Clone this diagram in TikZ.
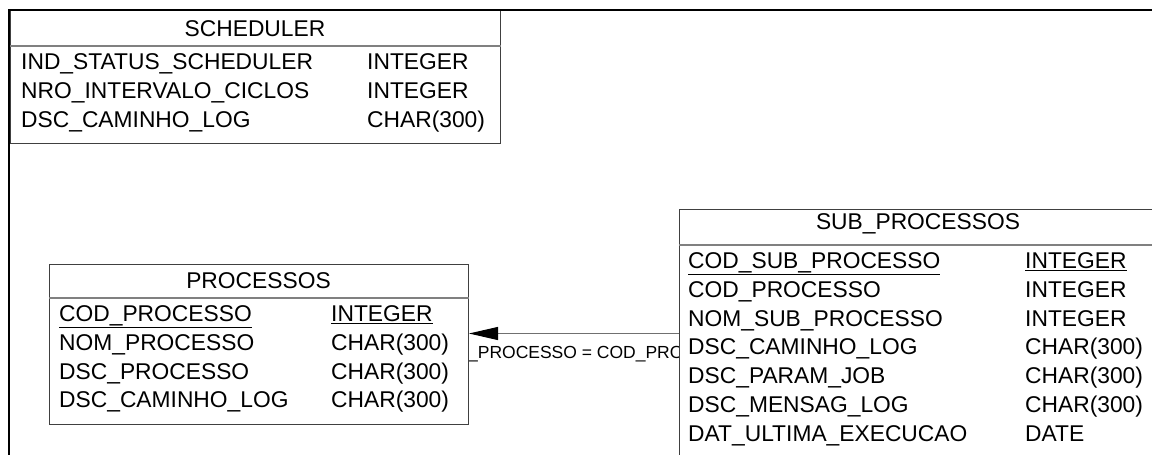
\documentclass[tikz,border=0pt]{standalone}
\usepackage{fontspec}
\setmainfont{Liberation Sans}
\usetikzlibrary{arrows.meta,backgrounds}
\definecolor{tblbd}{HTML}{404040}
\definecolor{hdrbd}{HTML}{808080}
\definecolor{fkgray}{HTML}{707070}
\tikzset{
  tbl/.style={draw=tblbd,fill=white,line width=1pt,inner sep=0pt,
              anchor=north west},
  hdrline/.style={draw=hdrbd,line width=1.6pt},
  fieldtxt/.style={font=\fontsize{22.8}{27}\selectfont,inner sep=0pt,
                   anchor=base west},
  hdrtxt/.style={font=\fontsize{22.8}{27}\selectfont,inner sep=0pt,
                 anchor=base},
  fkline/.style={-{Triangle[length=29pt,width=13pt,color=black]},
                 line width=1pt,fkgray},
  fklabel/.style={font=\fontsize{17.5}{20}\selectfont,inner sep=0pt,
                  anchor=base},
  pageframe/.style={line width=2pt,black},
}
\begin{document}
\begin{tikzpicture}[x=1pt,y=-1pt]
  \useasboundingbox (0,0) rectangle (1152,455);
  % SCHEDULER
  \node[tbl,minimum width=490pt,minimum height=133pt] (sched) at (10,10) {};
  \draw[hdrline]([yshift=-36pt]sched.north west)--([yshift=-36pt]sched.north east);
  \node[hdrtxt] (schedhd) at (255,36.5) {SCHEDULER};
  \foreach \i/\nm/\tp in {
    0/IND\_STATUS\_SCHEDULER/INTEGER,
    1/NRO\_INTERVALO\_CICLOS/INTEGER,
    2/DSC\_CAMINHO\_LOG/CHAR(300)%
  }{
    \node[fieldtxt] (schednm\i) at (21,69.5+28.8*\i) {\nm};
    \node[fieldtxt] (schedtp\i) at (367,69.5+28.8*\i) {\tp};
  }
  % PROCESSOS
  \node[tbl,minimum width=419pt,minimum height=160pt] (proc) at (49,264) {};
  \draw[hdrline]([yshift=-34pt]proc.north west)--([yshift=-34pt]proc.north east);
  \node[hdrtxt] (prochd) at (258.5,288) {PROCESSOS};
  \foreach \i/\nm/\tp in {
    0/\underline{COD\_PROCESSO}/\underline{INTEGER},
    1/NOM\_PROCESSO/CHAR(300),
    2/DSC\_PROCESSO/CHAR(300),
    3/DSC\_CAMINHO\_LOG/CHAR(300)%
  }{
    \node[fieldtxt] (procnm\i) at (59,321.5+28.8*\i) {\nm};
    \node[fieldtxt] (proctp\i) at (331,321.5+28.8*\i) {\tp};
  }
  % SUB_PROCESSOS
  \node[tbl,minimum width=478pt,minimum height=270pt] (sub) at (679,209) {};
  \draw[hdrline]([yshift=-36pt]sub.north west)--([yshift=-36pt]sub.north east);
  \node[hdrtxt] (subhd) at (918,229) {SUB\_PROCESSOS};
  \foreach \i/\nm/\tp in {
    0/\underline{COD\_SUB\_PROCESSO}/\underline{INTEGER},
    1/COD\_PROCESSO/INTEGER,
    2/NOM\_SUB\_PROCESSO/INTEGER,
    3/DSC\_CAMINHO\_LOG/CHAR(300),
    4/DSC\_PARAM\_JOB/CHAR(300),
    5/DSC\_MENSAG\_LOG/CHAR(300),
    6/DAT\_ULTIMA\_EXECUCAO/DATE%
  }{
    \node[fieldtxt] (subnm\i) at (688,268.5+28.8*\i) {\nm};
    \node[fieldtxt] (subtp\i) at (1025,268.5+28.8*\i) {\tp};
  }
  % relationship
  \coordinate (fkrow) at (0,333.5);
  \draw[fkline](fkrow -| sub.west)--(fkrow -| proc.east);
  \begin{scope}[on background layer]
    \node[fklabel] (fklbl) at (587,358) {COD\_PROCESSO = COD\_PROCESSO};
  \end{scope}
  % page frame
  \draw[pageframe](9,455)--(9,10)--(1152,10);
\end{tikzpicture}
\end{document}
